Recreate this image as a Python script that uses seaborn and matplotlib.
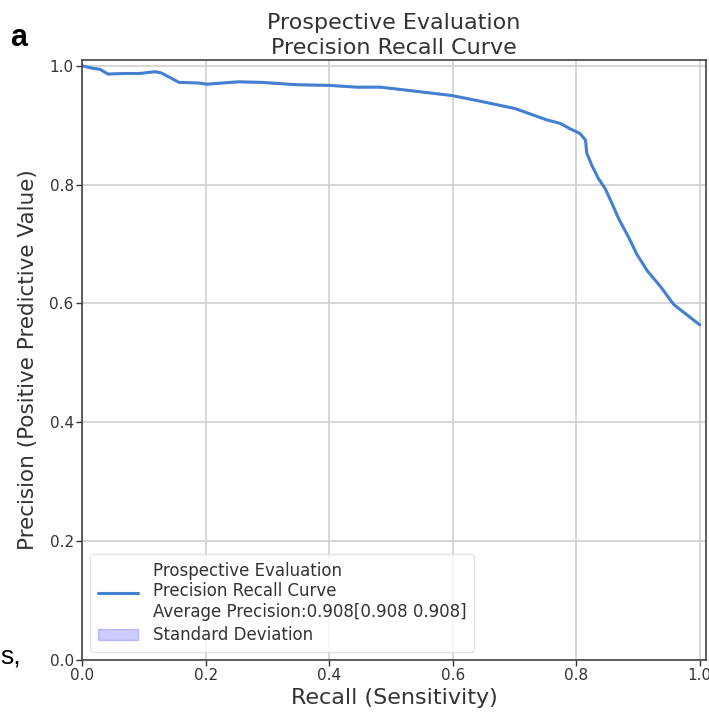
import matplotlib
matplotlib.use("Agg")
import matplotlib.pyplot as plt
import seaborn as sns
import numpy as np
import pandas as pd

recall = [0.0, 0.016, 0.029, 0.042, 0.067, 0.093, 0.118, 0.128, 0.157, 0.189,
          0.202, 0.253, 0.291, 0.349, 0.40, 0.445, 0.483, 0.541, 0.598, 0.637,
          0.701, 0.752, 0.774, 0.790, 0.806, 0.815, 0.817, 0.825, 0.836, 0.847,
          0.858, 0.869, 0.885, 0.898, 0.915, 0.936, 0.958, 0.979, 1.0]
precision = [1.0, 0.996, 0.994, 0.986, 0.987, 0.987, 0.990, 0.988, 0.972, 0.971,
             0.969, 0.973, 0.972, 0.968, 0.967, 0.964, 0.964, 0.957, 0.950, 0.942,
             0.928, 0.909, 0.903, 0.894, 0.886, 0.875, 0.853, 0.833, 0.810, 0.793,
             0.768, 0.742, 0.711, 0.683, 0.655, 0.629, 0.598, 0.581, 0.564]
std_dev = [0.0] * len(recall)

curve_label = ("Prospective Evaluation\nPrecision Recall Curve\n"
               "Average Precision:0.908[0.908 0.908]")
fill_label = "Standard Deviation"
title = "Prospective Evaluation\nPrecision Recall Curve"
xlabel = "Recall (Sensitivity)"
ylabel = "Precision (Positive Predictive Value)"
ticks = [0.0, 0.2, 0.4, 0.6, 0.8, 1.0]

sns.set_theme(style="whitegrid")
plt.rcParams['font.family'] = ['DejaVu Sans']

df = pd.DataFrame({"recall": recall, "precision": precision})
lo = np.array(precision) - np.array(std_dev)
hi = np.array(precision) + np.array(std_dev)

fig = plt.figure(figsize=(7.09, 7.12), dpi=100)
ax = fig.add_axes([0.1157, 0.073, 0.880, 0.843])

sns.lineplot(data=df, x="recall", y="precision", ax=ax, color="#4480d2",
             linewidth=2.2, label=curve_label, estimator=None, sort=False)
ax.fill_between(recall, lo, hi, color="blue", alpha=0.2, label=fill_label)

ax.set_xlim(0, 1.01)
ax.set_ylim(0, 1.01)
ax.set_xticks(ticks)
ax.set_yticks(ticks)
ax.set_xticklabels([f"{t:.1f}" for t in ticks])
ax.set_yticklabels([f"{t:.1f}" for t in ticks])
ax.tick_params(axis="both", labelsize=11, length=4, width=1, colors="#333333",
               direction="out", left=True, bottom=True, pad=2)
ax.grid(True, color="#d0d0d0", linewidth=1.2)
ax.set_facecolor("white")
for s in ax.spines.values():
    s.set_color("#444444")
    s.set_linewidth(1.2)

ax.set_xlabel(xlabel, fontsize=16, color="#333333", labelpad=3)
ax.set_ylabel(ylabel, fontsize=15.5, color="#333333", labelpad=8)
ax.set_title(title, fontsize=16, color="#333333", pad=4, linespacing=1.35)

leg = ax.legend(loc="lower left", fontsize=12, frameon=True, fancybox=True,
                borderpad=0.45, handlelength=2.4, handletextpad=0.9,
                labelspacing=0.3, bbox_to_anchor=(0.0, 0.0))
leg.get_frame().set_edgecolor("#dddddd")
leg.get_frame().set_linewidth(1.0)
for t in leg.get_texts():
    t.set_color("#333333")

fig.text(0.014, 0.935, "a", fontsize=22, fontweight="bold",
         family=["Liberation Sans", "DejaVu Sans"], color="black")
fig.text(0.0, 0.068, "s,", fontsize=19, family=["Liberation Sans", "DejaVu Sans"],
         color="black")

fig.savefig("out.png", dpi=100)
